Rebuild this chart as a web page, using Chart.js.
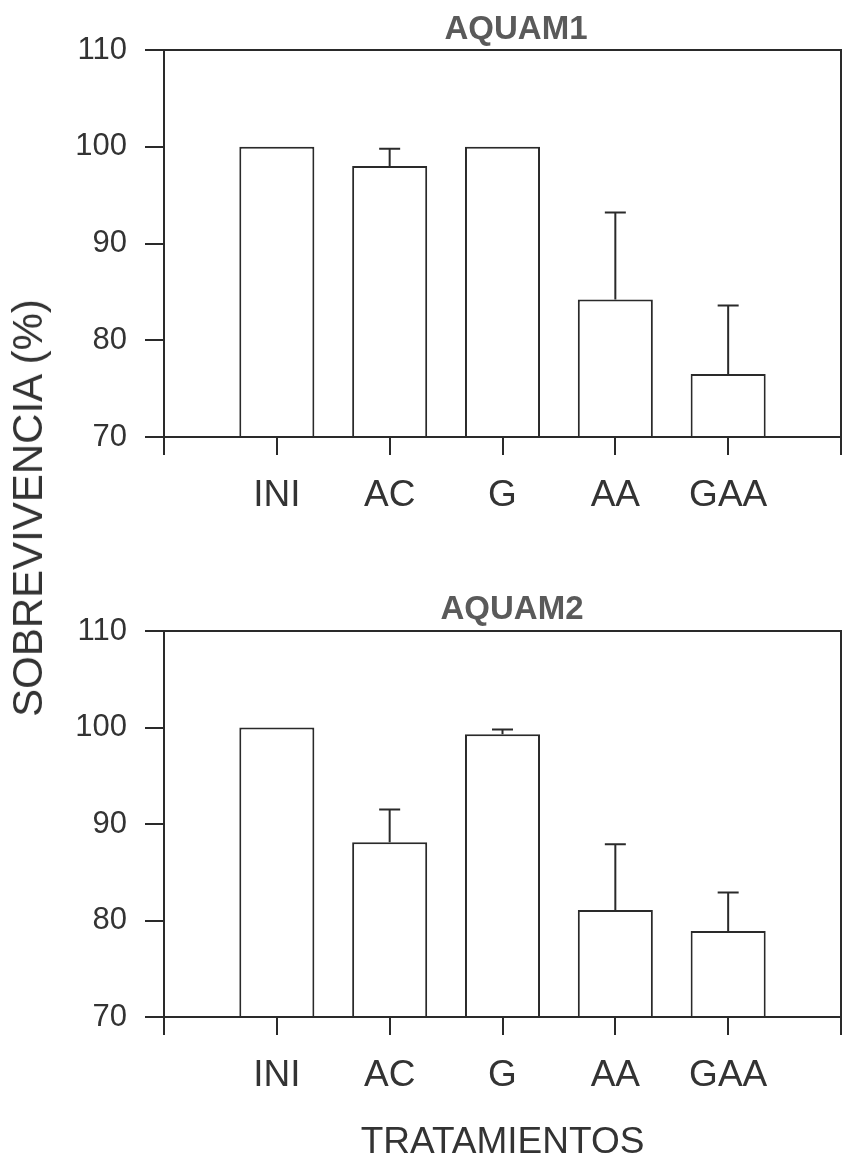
<!DOCTYPE html>
<html><head><meta charset="utf-8">
<script src="https://cdn.jsdelivr.net/npm/chart.js@4.4.1/dist/chart.umd.min.js"></script>
<style>
html,body{margin:0;padding:0;background:#fff;}
#wrap{position:relative;width:844px;height:1163px;overflow:hidden;font-family:"Liberation Sans",Arial,sans-serif;}
canvas{position:absolute;left:0;}
.ttl{position:absolute;font-weight:bold;font-size:33px;line-height:1;color:#5a5a5a;white-space:nowrap;transform:translateX(-50%);}
#ytitle{position:absolute;font-size:42px;line-height:1;color:#333;white-space:nowrap;left:28px;top:508px;transform:translate(-50%,-50%) rotate(-90deg);}
</style></head><body>
<div id="wrap">
<canvas id="c1" width="844" height="540" style="top:0"></canvas>
<canvas id="c2" width="844" height="603" style="top:560px"></canvas>
<div class="ttl" style="left:516px;top:11px">AQUAM1</div>
<div class="ttl" style="left:512px;top:591px">AQUAM2</div>
<div id="ytitle">SOBREVIVENCIA (%)</div>
</div>
<script>
// ---- data ----
const categories = ['INI', 'AC', 'G', 'AA', 'GAA'];
const aquam1Values = [100, 98, 100, 84.2, 76.5];
const aquam1Errors = [0, 1.8, 0, 9.0, 7.1];
const aquam2Values = [100, 88.1, 99.3, 81.1, 78.9];
const aquam2Errors = [0, 3.4, 0.5, 6.8, 4.0];
const yMin = 70, yMax = 110, yStep = 10;
const xTitle = 'TRATAMIENTOS';

// ---- styling ----
const INK = '#2a2a2a';
const TXT = '#333333';
const FONT = '"Liberation Sans", Arial, sans-serif';

const errorBarPlugin = {
  id: 'errorBars',
  afterDatasetsDraw(chart, args, opts) {
    const meta = chart.getDatasetMeta(0);
    const ys = chart.scales.y;
    const vals = chart.data.datasets[0].data;
    const ctx = chart.ctx;
    ctx.save();
    ctx.strokeStyle = opts.color;
    ctx.lineWidth = opts.lineWidth;
    meta.data.forEach((bar, i) => {
      const v = vals[i], e = opts.errors[i];
      if (v == null || !e) return;
      const yTop = ys.getPixelForValue(v + e);
      ctx.beginPath();
      ctx.moveTo(bar.x, bar.y);
      ctx.lineTo(bar.x, yTop);
      ctx.moveTo(bar.x - opts.capWidth / 2, yTop);
      ctx.lineTo(bar.x + opts.capWidth / 2, yTop);
      ctx.stroke();
    });
    ctx.restore();
  }
};

const framePlugin = {
  id: 'frame',
  afterDraw(chart, args, opts) {
    const a = chart.chartArea, ctx = chart.ctx;
    ctx.save();
    ctx.strokeStyle = opts.color;
    ctx.lineWidth = opts.lineWidth;
    ctx.beginPath();
    ctx.moveTo(a.left, a.top);
    ctx.lineTo(a.right, a.top);
    ctx.lineTo(a.right, a.bottom);
    ctx.stroke();
    ctx.restore();
  }
};

function makeChart(id, values, errors, padTop, xHeight, showTitle) {
  const labels = ['', ...categories, ''];
  const data = [null, ...values, null];
  const errs = [null, ...errors, null];
  return new Chart(document.getElementById(id), {
    type: 'bar',
    data: {
      labels,
      datasets: [{
        data,
        base: yMin,
        backgroundColor: '#ffffff',
        borderColor: INK,
        borderWidth: 2,
        categoryPercentage: 1,
        barPercentage: 0.665
      }]
    },
    plugins: [errorBarPlugin, framePlugin],
    options: {
      responsive: false,
      animation: false,
      layout: { autoPadding: false, padding: { left: 0, right: 3, top: padTop, bottom: 0 } },
      plugins: {
        legend: { display: false },
        tooltip: { enabled: false },
        errorBars: { errors: errs, color: INK, lineWidth: 2, capWidth: 21 },
        frame: { color: INK, lineWidth: 2 }
      },
      scales: {
        x: {
          type: 'category',
          offset: false,
          grid: { offset: false, drawOnChartArea: false, drawTicks: true, tickLength: 18, color: INK, lineWidth: 2 },
          border: { display: true, color: INK, width: 2 },
          ticks: { autoSkip: false, maxRotation: 0, minRotation: 0, padding: 19, color: TXT, font: { family: FONT, size: 37 } },
          title: { display: showTitle, text: xTitle, color: TXT, font: { family: FONT, size: 37, lineHeight: 1 }, padding: { top: 0, bottom: 2 } },
          afterFit(scale) { scale.height = xHeight; scale.paddingLeft = 0; scale.paddingRight = 0; }
        },
        y: {
          min: yMin,
          max: yMax,
          grid: { drawOnChartArea: false, drawTicks: true, tickLength: 19, color: INK, lineWidth: 2 },
          border: { display: true, color: INK, width: 2 },
          ticks: { stepSize: yStep, padding: 18, color: TXT, font: { family: FONT, size: 31 } },
          afterFit(scale) { scale.width = 164; scale.paddingTop = 0; scale.paddingBottom = 0; }
        }
      }
    }
  });
}

makeChart('c1', aquam1Values, aquam1Errors, 50, 103, false);
makeChart('c2', aquam2Values, aquam2Errors, 71, 146, true);
</script>
</body></html>
